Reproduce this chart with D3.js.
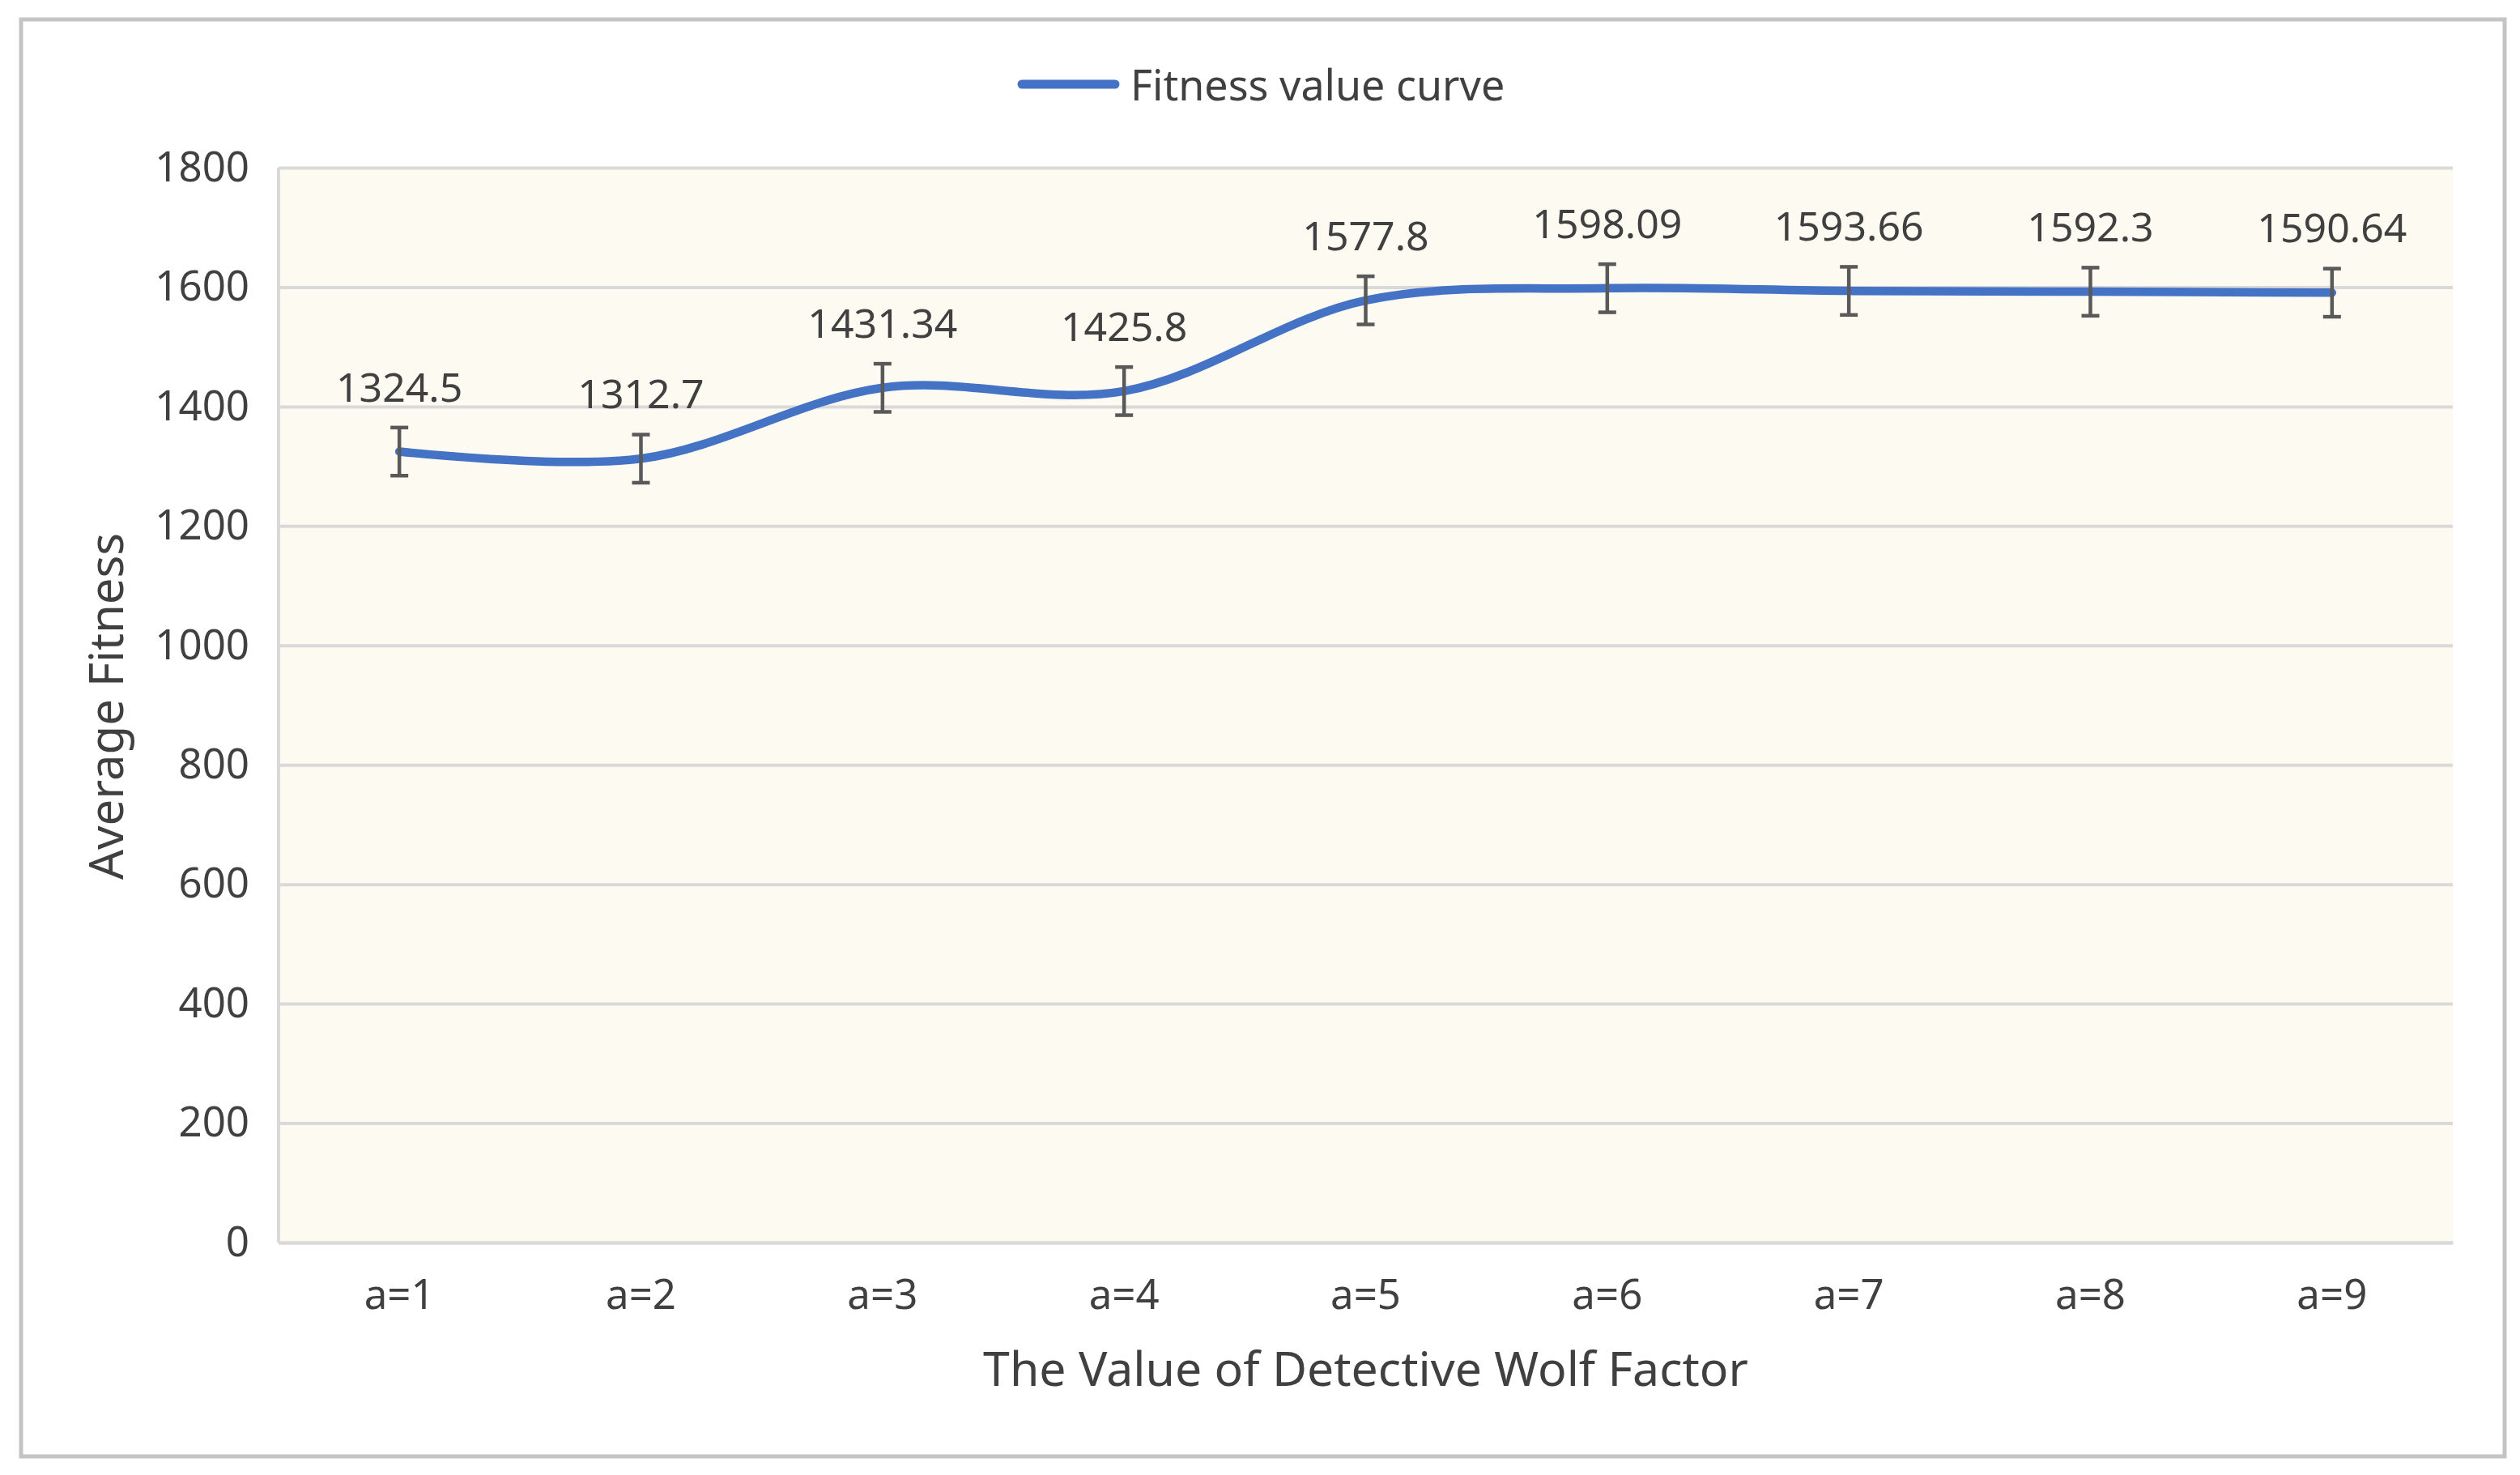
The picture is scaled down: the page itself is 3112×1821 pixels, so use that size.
<!DOCTYPE html>
<html>
<head>
<meta charset="utf-8">
<script src="https://cdn.jsdelivr.net/npm/d3@7"></script>
<style>
  html, body { margin: 0; padding: 0; background: #ffffff; }
  svg { display: block; }
  text { font-family: "Noto Sans", "Open Sans", sans-serif; fill: #404040; }
</style>
</head>
<body>
<svg id="chart" width="3112" height="1821"></svg>
<script>
// ---- data ----
const categories = ["a=1", "a=2", "a=3", "a=4", "a=5", "a=6", "a=7", "a=8", "a=9"];
const fitness = [1324.5, 1312.7, 1431.34, 1425.8, 1577.8, 1598.09, 1593.66, 1592.3, 1590.64];
const labels = ["1324.5", "1312.7", "1431.34", "1425.8", "1577.8", "1598.09", "1593.66", "1592.3", "1590.64"];
const errorBar = [40.3, 40.3, 40.3, 40.3, 40.3, 40.3, 40.3, 40.3, 40.3];
const yTicks = [0, 200, 400, 600, 800, 1000, 1200, 1400, 1600, 1800];
const seriesName = "Fitness value curve";
const xTitle = "The Value of Detective Wolf Factor";
const yTitle = "Average Fitness";

// ---- layout ----
const W = 3112, H = 1821;
const plot = { left: 344, top: 207, right: 3029, bottom: 1534 };
const svg = d3.select("#chart");

// outer border
svg.append("rect")
  .attr("x", 26).attr("y", 24)
  .attr("width", 3067).attr("height", 1774)
  .attr("fill", "#ffffff")
  .attr("stroke", "#c4c4c4").attr("stroke-width", 5);

const x = d3.scaleBand().domain(categories).range([plot.left, plot.right]).padding(0);
const y = d3.scaleLinear().domain([0, 1800]).range([plot.bottom, plot.top]);

// plot background
svg.append("rect")
  .attr("x", plot.left).attr("y", plot.top)
  .attr("width", plot.right - plot.left).attr("height", plot.bottom - plot.top)
  .attr("fill", "#fdfaf1");

// y axis with gridlines
const yAxis = svg.append("g")
  .attr("transform", `translate(${plot.left},0)`)
  .call(d3.axisLeft(y).tickValues(yTicks).tickSize(-(plot.right - plot.left)).tickPadding(36).tickFormat(d3.format("d")));
yAxis.select(".domain").remove();
yAxis.selectAll(".tick line").attr("stroke", "#d9d9d9").attr("stroke-width", 4);
yAxis.selectAll(".tick text")
  .style("font-family", '"Noto Sans", sans-serif')
  .style("font-size", "51px").attr("fill", "#404040");

// left border of plot
svg.append("line")
  .attr("x1", plot.left).attr("x2", plot.left)
  .attr("y1", plot.top).attr("y2", plot.bottom)
  .attr("stroke", "#d9d9d9").attr("stroke-width", 4);

// x axis
const xAxis = svg.append("g")
  .attr("transform", `translate(0,${plot.bottom})`)
  .call(d3.axisBottom(x).tickSize(0).tickPadding(46));
xAxis.select(".domain").attr("stroke", "#d9d9d9").attr("stroke-width", 4);
xAxis.selectAll(".tick text")
  .style("font-family", '"Noto Sans", sans-serif')
  .style("font-size", "51px").attr("fill", "#404040");

// data
const pts = categories.map((c, i) => ({ c, v: fitness[i], e: errorBar[i], l: labels[i] }));
const cx = d => x(d.c) + x.bandwidth() / 2;

// smooth line
const line = d3.line().x(cx).y(d => y(d.v)).curve(d3.curveCatmullRom.alpha(0.5));
svg.append("path").datum(pts)
  .attr("d", line)
  .attr("fill", "none")
  .attr("stroke", "#4472c4")
  .attr("stroke-width", 10.5)
  .attr("stroke-linecap", "round")
  .attr("stroke-linejoin", "round");

// error bars
const eb = svg.append("g").attr("stroke", "#595959").attr("stroke-width", 4.5);
pts.forEach(d => {
  const px = cx(d);
  eb.append("line").attr("x1", px).attr("x2", px).attr("y1", y(d.v + d.e)).attr("y2", y(d.v - d.e));
  eb.append("line").attr("x1", px - 11).attr("x2", px + 11).attr("y1", y(d.v + d.e)).attr("y2", y(d.v + d.e));
  eb.append("line").attr("x1", px - 11).attr("x2", px + 11).attr("y1", y(d.v - d.e)).attr("y2", y(d.v - d.e));
});

// data labels
svg.append("g").selectAll("text").data(pts).join("text")
  .attr("x", cx)
  .attr("y", d => y(d.v) - 62)
  .attr("text-anchor", "middle")
  .style("font-size", "50px")
  .text(d => d.l);

// legend
svg.append("line")
  .attr("x1", 1262).attr("x2", 1377).attr("y1", 104).attr("y2", 104)
  .attr("stroke", "#4472c4").attr("stroke-width", 11).attr("stroke-linecap", "round");
svg.append("text")
  .attr("x", 1396).attr("y", 124)
  .style("font-size", "52px")
  .text(seriesName);

// axis titles
svg.append("text")
  .attr("x", (plot.left + plot.right) / 2).attr("y", 1711)
  .attr("text-anchor", "middle")
  .style("font-size", "59px")
  .text(xTitle);
svg.append("text")
  .attr("transform", `translate(152,872) rotate(-90)`)
  .attr("text-anchor", "middle")
  .style("font-size", "58px")
  .text(yTitle);
</script>
</body>
</html>
